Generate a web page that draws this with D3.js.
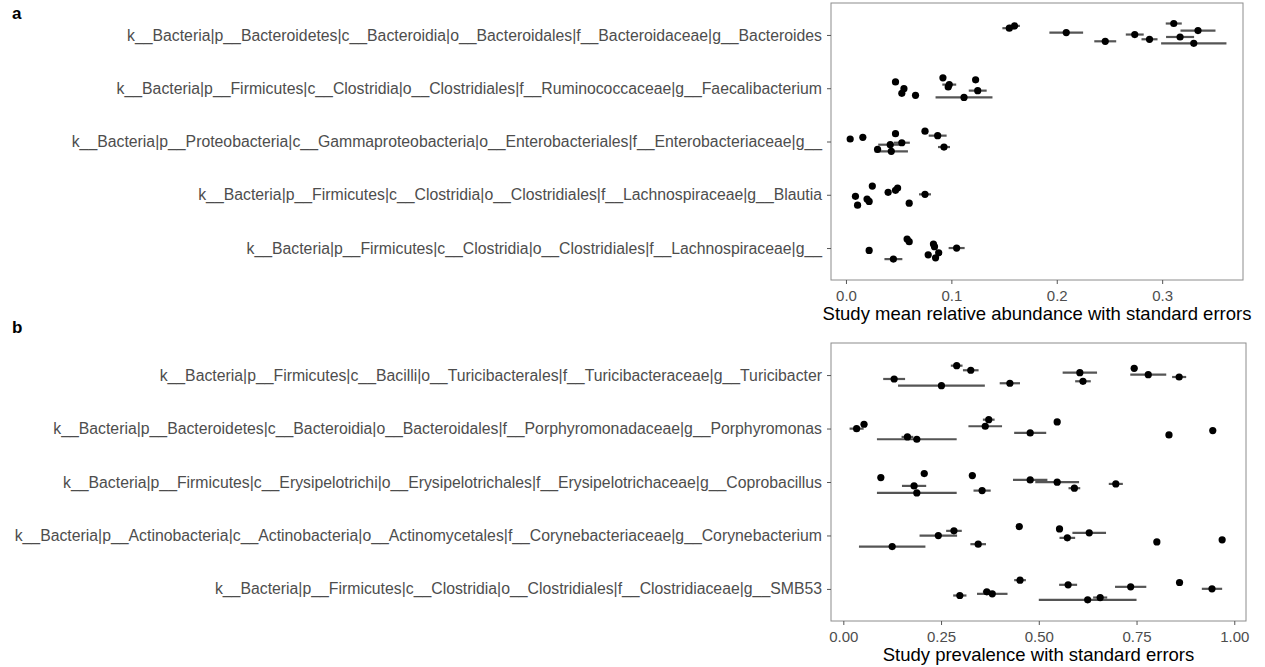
<!DOCTYPE html>
<html>
<head>
<meta charset="utf-8">
<script src="https://cdn.jsdelivr.net/npm/d3@7"></script>
<style>
  body { margin: 0; background: #fff; }
  svg text { font-family: "Liberation Sans", Arial, Helvetica, sans-serif; }
</style>
</head>
<body>
<div id="chart"></div>
<script>
// Panel a: study mean relative abundance (top genera)
const abundanceTaxa = [
    'k__Bacteria|p__Bacteroidetes|c__Bacteroidia|o__Bacteroidales|f__Bacteroidaceae|g__Bacteroides',
    'k__Bacteria|p__Firmicutes|c__Clostridia|o__Clostridiales|f__Ruminococcaceae|g__Faecalibacterium',
    'k__Bacteria|p__Proteobacteria|c__Gammaproteobacteria|o__Enterobacteriales|f__Enterobacteriaceae|g__',
    'k__Bacteria|p__Firmicutes|c__Clostridia|o__Clostridiales|f__Lachnospiraceae|g__Blautia',
    'k__Bacteria|p__Firmicutes|c__Clostridia|o__Clostridiales|f__Lachnospiraceae|g__'
];
const abundanceMean = [
    [0.155, 0.160, 0.209, 0.246, 0.274, 0.288, 0.311, 0.334, 0.317, 0.330],
    [0.047, 0.055, 0.053, 0.066, 0.092, 0.098, 0.097, 0.112, 0.123, 0.125],
    [0.004, 0.016, 0.047, 0.075, 0.087, 0.093, 0.042, 0.053, 0.030, 0.043],
    [0.025, 0.009, 0.011, 0.020, 0.022, 0.040, 0.047, 0.049, 0.060, 0.075],
    [0.022, 0.045, 0.058, 0.060, 0.083, 0.084, 0.078, 0.088, 0.085, 0.105]
];
const abundanceSE = [
    [0.0066, 0.005, 0.016, 0.0104, 0.0085, 0.0076, 0.0076, 0.0166, 0.0133, 0.031],
    [0.002, 0.002, 0.002, 0.002, 0.002, 0.0066, 0.003, 0.027, 0.002, 0.0085],
    [0.002, 0.002, 0.002, 0.003, 0.0085, 0.0057, 0.0114, 0.0076, 0.003, 0.0158],
    [0.001, 0.001, 0.001, 0.001, 0.001, 0.002, 0.002, 0.002, 0.002, 0.0057],
    [0.001, 0.0085, 0.002, 0.002, 0.003, 0.003, 0.003, 0.003, 0.002, 0.0076]
];
// vertical jitter of each study, in category units
const abundanceJitter = [
    [-0.127, -0.17, -0.045, 0.119, -0.008, 0.081, -0.215, -0.083, 0.038, 0.157],
    [-0.119, 0.008, 0.096, 0.134, -0.195, -0.068, -0.025, 0.172, -0.157, 0.045],
    [-0.047, -0.079, -0.147, -0.193, -0.11, 0.104, 0.06, 0.023, 0.147, 0.185],
    [-0.164, 0.03, 0.195, 0.081, 0.125, -0.045, -0.083, -0.127, 0.157, -0.008],
    [0.045, 0.208, -0.17, -0.119, -0.076, -0.025, 0.127, 0.089, 0.183, 0]
];
const abundanceTicks = [0, 0.1, 0.2, 0.3];
const abundanceDomain = [-0.0142, 0.3767];

// Panel b: study prevalence
const prevalenceTaxa = [
    'k__Bacteria|p__Firmicutes|c__Bacilli|o__Turicibacterales|f__Turicibacteraceae|g__Turicibacter',
    'k__Bacteria|p__Bacteroidetes|c__Bacteroidia|o__Bacteroidales|f__Porphyromonadaceae|g__Porphyromonas',
    'k__Bacteria|p__Firmicutes|c__Erysipelotrichi|o__Erysipelotrichales|f__Erysipelotrichaceae|g__Coprobacillus',
    'k__Bacteria|p__Actinobacteria|c__Actinobacteria|o__Actinomycetales|f__Corynebacteriaceae|g__Corynebacterium',
    'k__Bacteria|p__Firmicutes|c__Clostridia|o__Clostridiales|f__Clostridiaceae|g__SMB53'
];
const prevalenceMean = [
    [0.130, 0.251, 0.290, 0.326, 0.426, 0.605, 0.613, 0.744, 0.780, 0.859],
    [0.034, 0.053, 0.164, 0.188, 0.372, 0.363, 0.478, 0.547, 0.833, 0.945],
    [0.096, 0.207, 0.181, 0.188, 0.330, 0.355, 0.478, 0.547, 0.591, 0.697],
    [0.125, 0.243, 0.283, 0.345, 0.450, 0.553, 0.573, 0.629, 0.802, 0.969],
    [0.298, 0.367, 0.381, 0.452, 0.575, 0.735, 0.860, 0.943, 0.625, 0.657]
];
const prevalenceSE = [
    [0.028, 0.111, 0.015, 0.020, 0.026, 0.044, 0.020, 0.008, 0.046, 0.018],
    [0.018, 0.008, 0.015, 0.102, 0.015, 0.043, 0.041, 0.008, 0.008, 0.005],
    [0.008, 0.008, 0.031, 0.102, 0.008, 0.022, 0.044, 0.056, 0.015, 0.018],
    [0.085, 0.048, 0.020, 0.020, 0.008, 0.008, 0.020, 0.043, 0.008, 0.005],
    [0.017, 0.010, 0.039, 0.015, 0.023, 0.040, 0.006, 0.026, 0.125, 0.018]
];
const prevalenceJitter = [
    [0.073, 0.198, -0.176, -0.09, 0.153, -0.045, 0.116, -0.127, -0.007, 0.036],
    [0.002, -0.08, 0.157, 0.2, -0.166, -0.043, 0.082, -0.123, 0.12, 0.039],
    [-0.082, -0.157, 0.073, 0.204, -0.12, 0.161, -0.039, 0.004, 0.116, 0.036],
    [0.207, 0.002, -0.086, 0.163, -0.166, -0.123, 0.045, -0.049, 0.12, 0.082],
    [0.123, 0.054, 0.092, -0.164, -0.077, -0.039, -0.12, -0.002, 0.204, 0.161]
];
const prevalenceTicks = [0, 0.25, 0.5, 0.75, 1];
const prevalenceDomain = [-0.0315, 1.03];

const width = 1265;
const height = 667;

const svg = d3.select('#chart').append('svg')
    .attr('width', width)
    .attr('height', height);

function drawPanel(opts) {
    const x = d3.scaleLinear()
        .domain(opts.domain)
        .range([opts.left, opts.right]);

    // discrete rows, ggplot-style expansion of 0.6 on each side
    const y = d3.scaleLinear()
        .domain([0.4, opts.taxa.length + 0.6])
        .range([opts.top, opts.bottom]);

    const rows = [];
    opts.means.forEach((vals, i) => {
        vals.forEach((v, j) => {
            rows.push({
                row: i + 1 + opts.jitter[i][j],
                mean: v,
                se: opts.se[i][j]
            });
        });
    });

    const g = svg.append('g');

    // error bars
    g.selectAll('.err')
        .data(rows)
        .enter()
        .append('line')
        .attr('class', 'err')
        .attr('x1', d => x(d.mean - d.se))
        .attr('x2', d => x(d.mean + d.se))
        .attr('y1', d => y(d.row))
        .attr('y2', d => y(d.row))
        .attr('stroke', '#555')
        .attr('stroke-width', 2.2);

    // study points
    g.selectAll('.pt')
        .data(rows)
        .enter()
        .append('circle')
        .attr('class', 'pt')
        .attr('cx', d => x(d.mean))
        .attr('cy', d => y(d.row))
        .attr('r', 3.6)
        .attr('fill', '#000');

    // panel border
    g.append('rect')
        .attr('x', opts.left)
        .attr('y', opts.top)
        .attr('width', opts.right - opts.left)
        .attr('height', opts.bottom - opts.top)
        .attr('fill', 'none')
        .attr('stroke', '#8c8c8c')
        .attr('stroke-width', 1);

    // x axis
    const xAxis = g.append('g')
        .attr('transform', `translate(0, ${opts.bottom})`)
        .call(d3.axisBottom(x)
            .tickValues(opts.ticks)
            .tickFormat(d3.format(opts.fmt))
            .tickSize(4)
            .tickPadding(6));
    xAxis.select('.domain').remove();
    xAxis.selectAll('line').attr('stroke', '#555');
    xAxis.selectAll('text')
        .attr('fill', '#4d4d4d')
        .style('font-size', '15px');

    // y axis with taxon labels
    const yAxis = g.append('g')
        .attr('transform', `translate(${opts.left}, 0)`)
        .call(d3.axisLeft(y)
            .tickValues(d3.range(1, opts.taxa.length + 1))
            .tickFormat(d => opts.taxa[d - 1])
            .tickSize(4)
            .tickPadding(5));
    yAxis.select('.domain').remove();
    yAxis.selectAll('line').attr('stroke', '#555');
    yAxis.selectAll('text')
        .attr('fill', '#4d4d4d')
        .style('font-size', '15.8px');

    // axis title
    g.append('text')
        .attr('x', (opts.left + opts.right) / 2)
        .attr('y', opts.bottom + 40)
        .attr('text-anchor', 'middle')
        .attr('fill', '#000')
        .style('font-size', '18.5px')
        .text(opts.title);

    // panel letter
    svg.append('text')
        .attr('x', 12)
        .attr('y', opts.letterY)
        .attr('fill', '#000')
        .style('font-size', '17px')
        .style('font-weight', 'bold')
        .text(opts.letter);
}

drawPanel({
    letter: 'a',
    letterY: 19,
    taxa: abundanceTaxa,
    means: abundanceMean,
    se: abundanceSE,
    jitter: abundanceJitter,
    ticks: abundanceTicks,
    fmt: '.1f',
    domain: abundanceDomain,
    left: 831,
    right: 1243,
    top: 3,
    bottom: 280,
    title: 'Study mean relative abundance with standard errors'
});

drawPanel({
    letter: 'b',
    letterY: 333,
    taxa: prevalenceTaxa,
    means: prevalenceMean,
    se: prevalenceSE,
    jitter: prevalenceJitter,
    ticks: prevalenceTicks,
    fmt: '.2f',
    domain: prevalenceDomain,
    left: 831,
    right: 1246,
    top: 343,
    bottom: 621,
    title: 'Study prevalence with standard errors'
});
</script>
</body>
</html>
